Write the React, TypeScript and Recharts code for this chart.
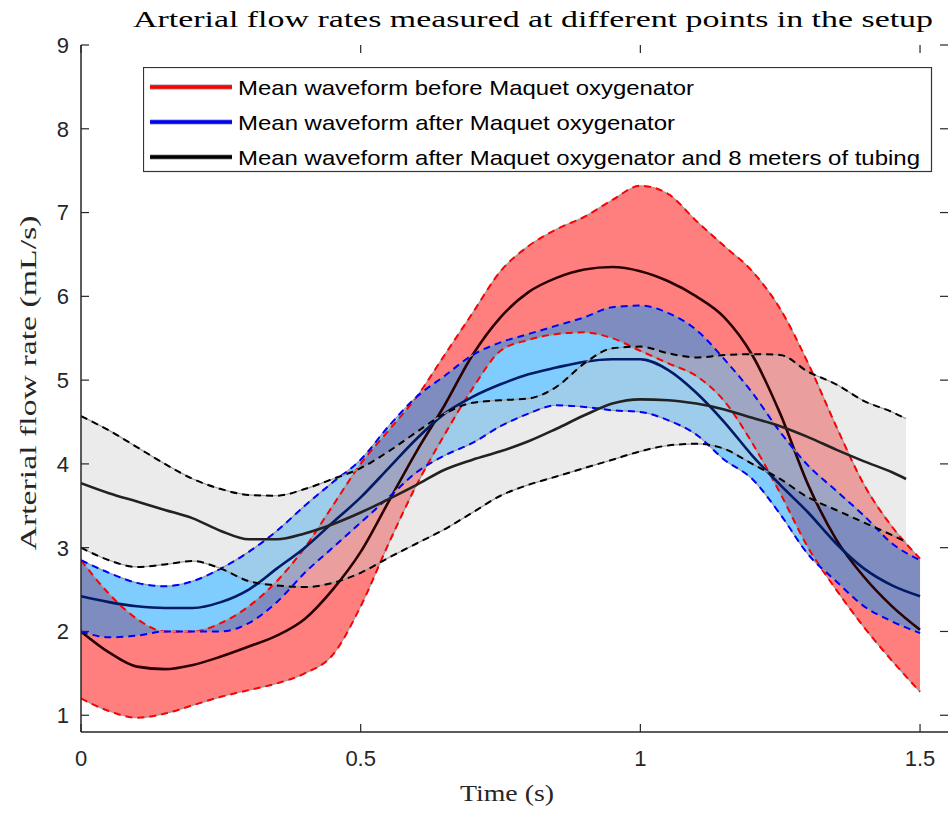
import { Area, ComposedChart, Legend, Line, XAxis, YAxis } from "recharts";

const time = [
  0, 0.05, 0.1, 0.15, 0.2, 0.25, 0.3, 0.35, 0.4, 0.45, 0.5, 0.55, 0.6, 0.65, 0.7, 0.75,
  0.8, 0.85, 0.9, 0.95, 1, 1.05, 1.1, 1.15, 1.2, 1.25, 1.3, 1.35, 1.4, 1.45, 1.5,
];
const grayTime = [
  0, 0.05, 0.1, 0.15, 0.2, 0.25, 0.3, 0.35, 0.4, 0.45, 0.5, 0.55, 0.6, 0.65, 0.7, 0.75,
  0.8, 0.85, 0.9, 0.95, 1, 1.05, 1.1, 1.15, 1.2, 1.25, 1.3, 1.35, 1.4, 1.45, 1.475,
];

// before Maquet oxygenator
const redMean = [
  2.0, 1.75, 1.58, 1.55, 1.6, 1.7, 1.82, 1.95, 2.15, 2.5, 2.95, 3.55, 4.15, 4.7, 5.3, 5.75,
  6.05, 6.22, 6.32, 6.35, 6.3, 6.18, 6.0, 5.75, 5.3, 4.6, 3.75, 3.1, 2.65, 2.3, 2.02,
];
const redUpper = [
  2.85, 2.45, 2.15, 2.0, 2.0, 2.1, 2.3, 2.6, 3.0, 3.5, 4.0, 4.4, 4.8, 5.3, 5.8, 6.3,
  6.6, 6.8, 6.95, 7.15, 7.32, 7.22, 6.9, 6.6, 6.3, 5.85, 5.2, 4.45, 3.75, 3.25, 2.87,
];
const redLower = [
  1.2, 1.05, 0.97, 1.02, 1.12, 1.22, 1.3, 1.38, 1.5, 1.72, 2.3, 3.05, 3.75, 4.35, 4.9, 5.35,
  5.48, 5.55, 5.57, 5.5, 5.35, 5.2, 5.05, 4.75, 4.25, 3.65, 3.0, 2.5, 2.05, 1.65, 1.28,
];

// after Maquet oxygenator
const blueMean = [
  2.42, 2.35, 2.3, 2.28, 2.28, 2.35, 2.5, 2.75, 3.0, 3.3, 3.6, 3.95, 4.3, 4.6, 4.8, 4.95,
  5.07, 5.15, 5.22, 5.25, 5.25, 5.12, 4.85, 4.5, 4.1, 3.75, 3.42, 3.05, 2.75, 2.55, 2.42,
];
const blueUpper = [
  2.85, 2.7, 2.58, 2.54, 2.6, 2.75, 2.95, 3.2, 3.5, 3.78, 4.05, 4.45, 4.8, 5.05, 5.3, 5.45,
  5.55, 5.65, 5.75, 5.87, 5.89, 5.8, 5.6, 5.25, 4.85, 4.38, 3.98, 3.68, 3.38, 3.05, 2.85,
];
const blueLower = [
  2.0, 1.93, 1.95, 2.0, 2.0, 2.0, 2.1, 2.35, 2.7, 3.0, 3.3, 3.6, 3.9, 4.1, 4.25, 4.45,
  4.6, 4.7, 4.68, 4.64, 4.62, 4.52, 4.35, 4.05, 3.82, 3.4, 2.92, 2.6, 2.3, 2.12, 1.98,
];

// after oxygenator and 8 m of tubing
const grayMean = [
  3.77, 3.65, 3.55, 3.45, 3.35, 3.2, 3.1, 3.1, 3.17, 3.28, 3.42, 3.58, 3.75, 3.93, 4.05, 4.15,
  4.27, 4.42, 4.58, 4.72, 4.77, 4.76, 4.72, 4.65, 4.55, 4.45, 4.32, 4.17, 4.03, 3.9, 3.82,
];
const grayUpper = [
  4.57, 4.4, 4.2, 4.0, 3.82, 3.7, 3.63, 3.62, 3.7, 3.82, 3.95, 4.15, 4.38, 4.6, 4.73, 4.76,
  4.78, 4.92, 5.2, 5.38, 5.4, 5.32, 5.27, 5.3, 5.31, 5.3, 5.1, 4.95, 4.75, 4.62, 4.54,
];
const grayLower = [
  3.0, 2.85, 2.77, 2.8, 2.84, 2.75, 2.6, 2.55, 2.53, 2.58, 2.7, 2.88, 3.05, 3.22, 3.42, 3.62,
  3.75, 3.85, 3.95, 4.05, 4.15, 4.22, 4.24, 4.18, 4.0, 3.82, 3.6, 3.45, 3.3, 3.15, 3.07,
];

const xTicks = [0, 0.5, 1, 1.5];
const yTicks = [1, 2, 3, 4, 5, 6, 7, 8, 9];

const legendItems = [
  { label: "Mean waveform before Maquet oxygenator", color: "#ff0000", len: 456 },
  { label: "Mean waveform after Maquet oxygenator", color: "#0000ff", len: 437 },
  { label: "Mean waveform after Maquet oxygenator and 8 meters of tubing", color: "#000000", len: 682 },
];

const toRows = (t: number[], mean: number[], upper: number[], lower: number[]) =>
  t.map((x, i) => ({ t: x, mean: mean[i], upper: upper[i], lower: lower[i], band: [lower[i], upper[i]] }));

const redData = toRows(time, redMean, redUpper, redLower);
const blueData = toRows(time, blueMean, blueUpper, blueLower);
const grayData = toRows(grayTime, grayMean, grayUpper, grayLower);

const TOP = 45;
const BOTTOM = 732;
const LEFT = 81;
const RIGHT = 948;
const AXIS = "#262626";
const SANS = "'Liberation Sans', Arial, sans-serif";
const SERIF = "'Liberation Serif', 'Times New Roman', serif";

const XTick = (props: any) => {
  const { x, payload } = props;
  return (
    <g>
      <line x1={x} x2={x} y1={BOTTOM} y2={BOTTOM - 8} stroke={AXIS} strokeWidth={1.2} />
      <line x1={x} x2={x} y1={TOP} y2={TOP + 8} stroke={AXIS} strokeWidth={1.2} />
      <text x={x} y={766} textAnchor="middle" fontSize={22} fontFamily={SANS} fill={AXIS}>
        {payload.value}
      </text>
    </g>
  );
};

const YTick = (props: any) => {
  const { y, payload } = props;
  return (
    <g>
      <line x1={LEFT} x2={LEFT + 8} y1={y} y2={y} stroke={AXIS} strokeWidth={1.2} />
      <line x1={RIGHT} x2={RIGHT - 8} y1={y} y2={y} stroke={AXIS} strokeWidth={1.2} />
      <text x={69} y={y} dy="0.36em" textAnchor="end" fontSize={22} fontFamily={SANS} fill={AXIS}>
        {payload.value}
      </text>
    </g>
  );
};

const LegendBox = () => (
  <svg width={790} height={106} style={{ display: "block" }}>
    <rect x={0.5} y={0.5} width={788} height={104} fill="#fff" stroke="#333" strokeWidth={1.2} />
    {legendItems.map((item, i) => {
      const cy = 20 + i * 35;
      return (
        <g key={item.label}>
          <line x1={7} x2={89} y1={cy} y2={cy} stroke="#999" strokeWidth={5} />
          <line x1={7} x2={89} y1={cy} y2={cy} stroke={item.color} strokeWidth={3.5} />
          <text
            x={95}
            y={cy + 7.5}
            fontSize={21}
            fontFamily={SANS}
            fill="#000"
            textLength={item.len}
            lengthAdjust="spacingAndGlyphs"
          >
            {item.label}
          </text>
        </g>
      );
    })}
  </svg>
);

const bandSeries = (
  key: string,
  data: any[],
  fill: string,
  opacity: number,
  dash: string,
  meanColor: string
) => [
  <Area
    key={key + "-band"}
    data={data}
    dataKey="band"
    type="monotone"
    fill={fill}
    fillOpacity={opacity}
    stroke="none"
    isAnimationActive={false}
    legendType="none"
  />,
  <Line key={key + "-u0"} data={data} dataKey="upper" type="monotone" stroke="#9a9a9a" strokeWidth={1.2} dot={false} isAnimationActive={false} legendType="none" />,
  <Line key={key + "-u1"} data={data} dataKey="upper" type="monotone" stroke={dash} strokeWidth={2} strokeDasharray="7 5" dot={false} isAnimationActive={false} legendType="none" />,
  <Line key={key + "-l0"} data={data} dataKey="lower" type="monotone" stroke="#9a9a9a" strokeWidth={1.2} dot={false} isAnimationActive={false} legendType="none" />,
  <Line key={key + "-l1"} data={data} dataKey="lower" type="monotone" stroke={dash} strokeWidth={2} strokeDasharray="7 5" dot={false} isAnimationActive={false} legendType="none" />,
  <Line key={key + "-m"} data={data} dataKey="mean" type="monotone" stroke={meanColor} strokeWidth={2.6} dot={false} isAnimationActive={false} legendType="none" />,
];

export default function App() {
  return (
    <div style={{ position: "absolute", left: 0, top: 0, width: 948, height: 814, overflow: "hidden", background: "#fff" }}>
      <ComposedChart width={952} height={814} margin={{ top: TOP, right: 952 - RIGHT, bottom: 0, left: 0 }}>
        <XAxis
          dataKey="t"
          type="number"
          domain={[0, 1.55]}
          ticks={xTicks}
          height={814 - BOTTOM}
          allowDataOverflow
          axisLine={{ stroke: AXIS, strokeWidth: 1.5 }}
          tickLine={false}
          tick={<XTick />}
          interval={0}
        />
        <XAxis
          xAxisId="top"
          orientation="top"
          type="number"
          domain={[0, 1.55]}
          height={0}
          tick={false}
          tickLine={false}
          axisLine={{ stroke: AXIS, strokeWidth: 1.5 }}
        />
        <YAxis
          type="number"
          domain={[0.8, 9]}
          ticks={yTicks}
          width={LEFT}
          allowDataOverflow
          axisLine={{ stroke: AXIS, strokeWidth: 1.5 }}
          tickLine={false}
          tick={<YTick />}
          interval={0}
        />
        <YAxis
          yAxisId="right"
          orientation="right"
          type="number"
          domain={[0.8, 9]}
          width={0}
          tick={false}
          tickLine={false}
          axisLine={{ stroke: AXIS, strokeWidth: 1.5 }}
        />
        {bandSeries("red", redData, "#ff0000", 0.5, "#ff0000", "#2a0000")}
        {bandSeries("blue", blueData, "#0099ff", 0.5, "#0000ff", "#001a66")}
        {bandSeries("gray", grayData, "#cccccc", 0.4, "#000000", "#222222")}
        <Legend
          layout="vertical"
          align="center"
          verticalAlign="middle"
          content={<LegendBox />}
          wrapperStyle={{ position: "absolute", left: 143, top: 67, width: 790, height: 106 }}
        />
      </ComposedChart>
      <svg
        width={948}
        height={814}
        style={{ position: "absolute", left: 0, top: 0, pointerEvents: "none" }}
      >
        <text x={533} y={27} textAnchor="middle" fontSize={24} fontFamily={SERIF} fill="#000" textLength={800} lengthAdjust="spacingAndGlyphs">
          Arterial flow rates measured at different points in the setup
        </text>
        <text x={507} y={801} textAnchor="middle" fontSize={24} fontFamily={SERIF} fill="#262626" textLength={94} lengthAdjust="spacingAndGlyphs">
          Time (s)
        </text>
        <text
          transform="translate(36,383) rotate(-90)"
          textAnchor="middle"
          fontSize={24}
          fontFamily={SERIF}
          fill="#262626"
          textLength={335}
          lengthAdjust="spacingAndGlyphs"
        >
          Arterial flow rate (mL/s)
        </text>
      </svg>
    </div>
  );
}
